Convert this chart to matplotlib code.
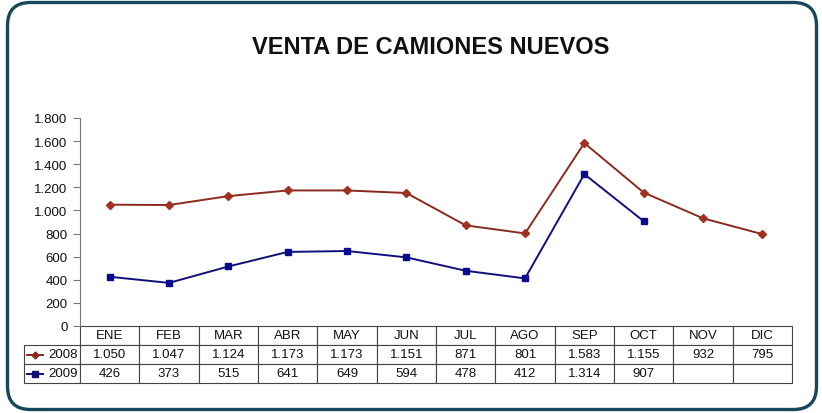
import matplotlib
matplotlib.use('Agg')
from matplotlib import pyplot as plt
from matplotlib.patches import FancyBboxPatch
from matplotlib.lines import Line2D

plt.rcParams['font.family'] = ['Liberation Sans', 'DejaVu Sans']

meses = ['ENE', 'FEB', 'MAR', 'ABR', 'MAY', 'JUN', 'JUL', 'AGO', 'SEP', 'OCT', 'NOV', 'DIC']
ventas_2008 = [1050, 1047, 1124, 1173, 1173, 1151, 871, 801, 1583, 1155, 932, 795]
ventas_2009 = [426, 373, 515, 641, 649, 594, 478, 412, 1314, 907]
yticks = [0, 200, 400, 600, 800, 1000, 1200, 1400, 1600, 1800]

def fmt(v):
    return '{:,}'.format(v).replace(',', '.')

W, H = 822, 414
fig = plt.figure(figsize=(W / 100, H / 100), dpi=100)

# rounded frame (in inches so the corners stay round)
frame = FancyBboxPatch((0.075, 0.035), 8.09, 4.07,
                       boxstyle='round,pad=0,rounding_size=0.23',
                       transform=fig.dpi_scale_trans, facecolor='white',
                       edgecolor='#17475a', linewidth=2.4, zorder=-5)
fig.patches.append(frame)

fig.text(431 / W, 1 - 47 / H, 'VENTA DE CAMIONES NUEVOS', ha='center', va='center',
         fontsize=17, fontweight='bold', color='#111111')

x0, x1 = 80, 792
y_top, y_zero = 119, 327
ax = fig.add_axes([x0 / W, 1 - y_zero / H, (x1 - x0) / W, (y_zero - y_top) / H])
ax.patch.set_alpha(0)

xs = list(range(len(meses)))
ax.plot(xs, ventas_2008, color='#8b2a1e', lw=1.4, marker='D', ms=3.8,
        mfc='#a03020', mec='#a03020', zorder=3)
ax.plot(xs[:len(ventas_2009)], ventas_2009, color='#10107a', lw=1.4, marker='s', ms=4.5,
        mfc='#0a0a90', mec='#0a0a90', zorder=3)

ax.set_xlim(-0.5, len(meses) - 0.5)
ax.set_ylim(0, 1800)
ax.set_yticks(yticks)
ax.set_yticklabels([fmt(v) for v in yticks], fontsize=9.5, color='#111111')
ax.tick_params(axis='y', direction='out', length=5, width=0.8, color='#777777', pad=4)
ax.set_xticks([])
for s in ['top', 'right', 'bottom']:
    ax.spines[s].set_visible(False)
ax.spines['left'].set_color('#777777')
ax.spines['left'].set_linewidth(0.8)

# data table under the axes (first column holds the row labels)
cells = [['2008'] + [fmt(v) for v in ventas_2008],
         ['2009'] + [fmt(v) for v in ventas_2009] + [''] * (len(meses) - len(ventas_2009))]
row_w = 56 / (x1 - x0)
th = 57 / (y_zero - y_top)
tbl = ax.table(cellText=cells, colLabels=[''] + meses,
               colWidths=[row_w] + [1 / 12] * 12,
               cellLoc='center', bbox=[-row_w, -th, 1 + row_w, th])
tbl.auto_set_font_size(False)
for (r, c), cell in tbl.get_celld().items():
    cell.set_edgecolor('#444444')
    cell.set_linewidth(0.8)
    cell.get_text().set_fontsize(9.5)
    cell.get_text().set_color('#111111')
    if c == 0:
        cell.get_text().set_ha('right')
        cell.PAD = 0.04
    if r == 0 and c == 0:
        cell.visible_edges = ''

# legend keys in the row label cells
for yy, col, mk, ms in [(356, '#8b2a1e', 'D', 3.5), (375, '#10107a', 's', 4)]:
    fig.add_artist(Line2D([27 / W, 35 / W, 43 / W], [1 - yy / H] * 3, color=col, lw=1.4,
                          marker=mk, markevery=[1], ms=ms, mfc=col, mec=col,
                          transform=fig.transFigure))

fig.savefig('out.png', dpi=100)
